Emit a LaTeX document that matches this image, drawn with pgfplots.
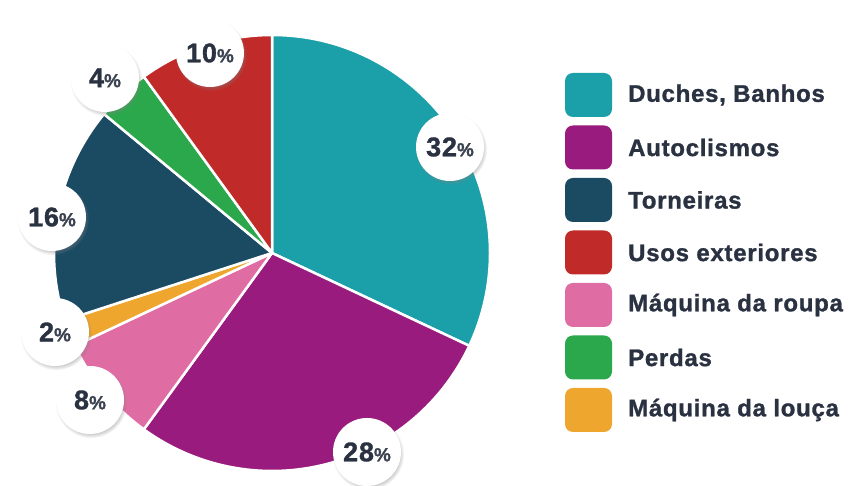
\documentclass[border=0pt]{standalone}
\usepackage{pgfplots}
\pgfplotsset{compat=1.18}
\usepackage{fontspec}
\setmainfont{Liberation Sans}
\newfontfamily\wfont[LetterSpace=3,BoldFeatures={FakeBold=1.2}]{Liberation Sans}
\usetikzlibrary{shadows}
\definecolor{cTeal}{HTML}{1BA0A9}
\definecolor{cPurple}{HTML}{9A1B7E}
\definecolor{cNavy}{HTML}{1B4B63}
\definecolor{cRed}{HTML}{C02A28}
\definecolor{cPink}{HTML}{DF6CA2}
\definecolor{cGreen}{HTML}{2CA84C}
\definecolor{cOrange}{HTML}{EFA62F}
\definecolor{cText}{HTML}{2A3242}
\definecolor{cPct}{HTML}{3A4250}
\begin{document}
\begin{tikzpicture}
\begin{axis}[x=1pt,y=1pt,xmin=0,xmax=855,ymin=0,ymax=486,hide axis,clip=false]
\coordinate (ll) at (axis cs:0,0);
\coordinate (ur) at (axis cs:855,486);
% pie: values in percent, clockwise from top
\gdef\cum{90}
\foreach \v/\c in {32/cTeal,28/cPurple,8/cPink,2/cOrange,16/cNavy,4/cGreen,10/cRed}{
  \pgfmathsetmacro\a{\cum}
  \pgfmathsetmacro\b{\cum-\v*3.6}
  \edef\temp{\noexpand\fill[\c,draw=white,line width=2.5pt,line join=round] (axis cs:272,233) -- ++(\a:218pt) arc[start angle=\a,end angle=\b,radius=218pt] -- cycle;}
  \temp
  \xdef\cum{\b}
}
% value labels
\foreach \x/\y/\t in {450/339/32,367/34/28,90/86/8,55/154/2,52/269/16,105/408/4,210/433/10}{
  \edef\temp{\noexpand\node[circle,fill=white,minimum size=68pt,inner sep=0pt,
    circular drop shadow={shadow xshift=1pt,shadow yshift=-2pt,opacity=0.45,shadow scale=1.06},
    text=cText,font=\noexpand\wfont\noexpand\fontsize{27}{27}\noexpand\selectfont\noexpand\bfseries]
    at (axis cs:\x,\y) {\t{\noexpand\color{cPct}\noexpand\fontsize{19}{19}\noexpand\selectfont\noexpand\%}};}
  \temp
}
% legend
\foreach \y/\c/\t in {391/cTeal/{Duches, Banhos},338.5/cPurple/Autoclismos,286/cNavy/Torneiras,233.5/cRed/Usos exteriores,181/cPink/Máquina da roupa,128.5/cGreen/Perdas,76/cOrange/Máquina da louça}{
  \edef\temp{\noexpand\fill[\c,rounded corners=8pt] (axis cs:565,\y) ++(0,-22pt) rectangle ++(47pt,44pt);
    \noexpand\node[anchor=west,text=cText,font=\noexpand\wfont\noexpand\fontsize{24}{24}\noexpand\selectfont\noexpand\bfseries,inner sep=0pt] at (axis cs:628,\y) {\t};}
  \temp
}
\end{axis}
\pgfresetboundingbox
\useasboundingbox (ll) rectangle (ur);
\end{tikzpicture}
\end{document}
